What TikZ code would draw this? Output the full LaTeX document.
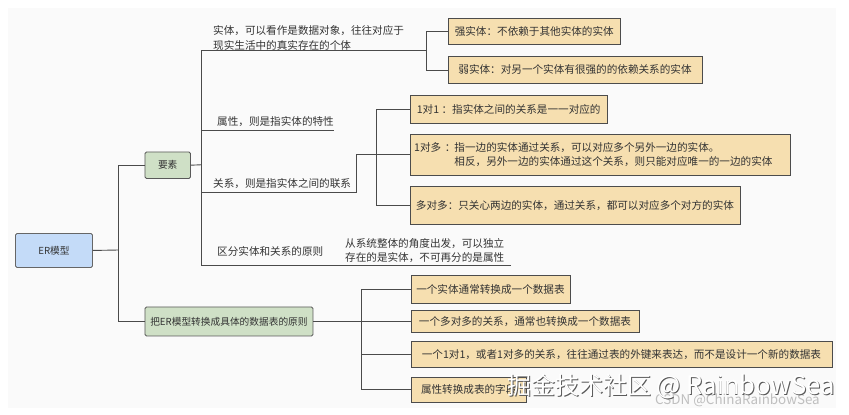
\documentclass[tikz,border=0pt]{standalone}
\usepackage{fontspec}
\setmainfont{Noto Sans CJK SC}
\definecolor{pagebg}{HTML}{FAFAFA}
\definecolor{wire}{HTML}{4A4A4A}
\definecolor{ermblue}{HTML}{C4DBF8}
\definecolor{ermgreen}{HTML}{CFE0C6}
\definecolor{ermtan}{HTML}{F6DFB0}
\tikzset{
  basebox/.style={draw=#1, line width=0.9pt, inner sep=0pt, anchor=north west, text=black!80, font=\fontsize{10.6}{14}\selectfont},
  rootbox/.style={basebox=black!60, fill=ermblue, rounded corners=1.5pt, font=\fontsize{9.7}{14}\selectfont},
  groupbox/.style={basebox=black!65, fill=ermgreen, rounded corners=1.5pt, font=\fontsize{9.7}{14}\selectfont},
  leafbox/.style={basebox=black!70, fill=ermtan},
  plain/.style={inner sep=0pt, anchor=west, align=left, text=black!80, font=\fontsize{10.6}{14}\selectfont},
  wires/.style={draw=wire, line width=0.9pt},
  markbig/.style={inner sep=0pt, anchor=west, font=\fontsize{24}{28}\selectfont},
  marksmall/.style={inner sep=0pt, anchor=west, text=black!25, font=\fontsize{13.4}{15}\selectfont},
}
\newcommand{\wmtext}{掘金技术社区 {\fontsize{25.6}{28}\selectfont @ RainbowSea}}
\begin{document}
\begin{tikzpicture}[x=1pt,y=-1pt]
\useasboundingbox (0,0) rectangle (849,415);
\fill[white] (0,0) rectangle (849,415);
\fill[pagebg] (8,8) rectangle (836,408);

% junctions and free ends
\coordinate (j0) at (118.5,250);
\coordinate (j1) at (201.5,164.75);
\coordinate (e1) at (426,50.5);
\coordinate (e2) at (333.5,130.5);
\coordinate (e3) at (356.5,192.5);
\coordinate (e4) at (511,265.5);
\coordinate (j2) at (376.5,154.25);
\coordinate (j3) at (361.5,321);

% boxes
\node[rootbox, minimum width=77pt, minimum height=34pt] (er) at (15,233) {ER模型};
\node[groupbox, minimum width=45.5pt, minimum height=26.5pt] (ys) at (144.5,151.5) {要素};
\node[groupbox, minimum width=168pt, minimum height=29pt] (zh) at (144.5,306.5) {把ER模型转换成具体的数据表的原则};
\node[leafbox, minimum width=172.4pt, minimum height=26.5pt] (qs) at (447.6,17.5) {强实体：不依赖于其他实体的实体};
\node[leafbox, minimum width=253.9pt, minimum height=27pt] (rs) at (447.6,56) {弱实体：对另一个实体有很强的的依赖关系的实体};
\node[leafbox, minimum width=197.5pt, minimum height=27.5pt] (r1) at (409.5,95) {1对1 ：指实体之间的关系是一一对应的};
\node[leafbox, minimum width=380pt, minimum height=41.5pt, align=left, text width=375pt, inner xsep=2.5pt] (r2) at (409.5,133.5) {\makebox[42pt][l]{\,1对多 ：}指一边的实体通过关系，可以对应多个另外一边的实体。\\\hspace*{42pt}相反，另外一边的实体通过这个关系，则只能对应唯一的一边的实体};
\node[leafbox, minimum width=330pt, minimum height=38.5pt] (r3) at (409.5,185.5) {多对多：只关心两边的实体，通过关系，都可以对应多个对方的实体};
\node[leafbox, minimum width=159pt, minimum height=27.5pt] (t1) at (410.5,275) {一个实体通常转换成一个数据表};
\node[leafbox, minimum width=228pt, minimum height=22pt] (t2) at (410.5,310) {一个多对多的关系，通常也转换成一个数据表};
\node[leafbox, minimum width=421pt, minimum height=26pt] (t3) at (410.5,341) {一个1对1，或者1对多的关系，往往通过表的外键来表达，而不是设计一个新的数据表};
\node[leafbox, minimum width=115.5pt, minimum height=25.5pt] (t4) at (410.5,376.5) {属性转换成表的字段};

% plain labels
\node[plain] (a1) at (213,31) {实体，可以看作是数据对象，往往对应于};
\node[plain] (a2) at (213,45) {现实生活中的真实存在的个体};
\node[plain] (b1) at (217,122) {属性，则是指实体的特性};
\node[plain] (c1) at (213,184) {关系，则是指实体之间的联系};
\node[plain] (d1) at (217,251) {区分实体和关系的原则};
\node[plain] (d2) at (345,244) {从系统整体的角度出发，可以独立};
\node[plain] (d3) at (345,258) {存在的是实体，不可再分的是属性};

% connectors
\draw[wires] (er.east) -- (j0);
\draw[wires] (ys.west) -| (j0);
\draw[wires] (zh.west) -| (j0);
\draw[wires] (ys.east) -- (j1);
\draw[wires] (e1) -| (j1);
\draw[wires] (e2) -| (j1);
\draw[wires] (e3) -| (j1);
\draw[wires] (e4) -| (j1);
\draw[wires] (qs.west) -| (e1);
\draw[wires] (rs.west) -| (e1);
\draw[wires] (e3) |- (r2.west);
\draw[wires] (r1.west) -| (j2);
\draw[wires] (r3.west) -| (j2);
\draw[wires] (zh.east) -- (t2.west);
\draw[wires] (t1.west) -| (j3);
\draw[wires] (t3.west) -| (j3);
\draw[wires] (t4.west) -| (j3);

% overlaid marks
\node[marksmall] (wm2) at (655,400) {CSDN @ChinaRainbowSea};
\node[markbig, text=black!65] (wm1s) at (507.8,387.3) {\wmtext};
\node[markbig, text=white] (wm1) at (507,386.5) {\wmtext};
\end{tikzpicture}
\end{document}
